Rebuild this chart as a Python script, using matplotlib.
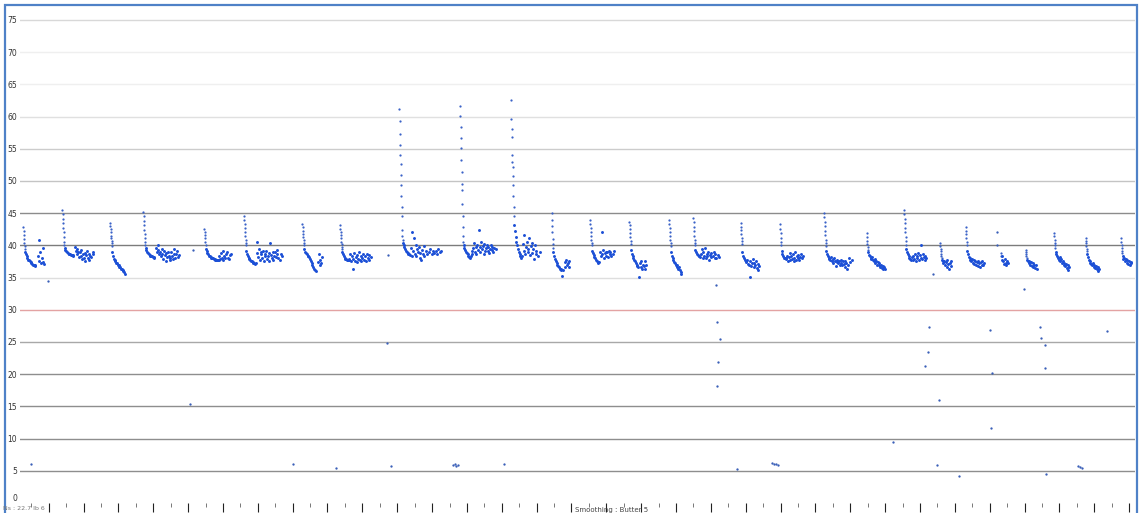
import numpy as np
import matplotlib.pyplot as plt
from matplotlib.patches import Rectangle

nan = np.nan

# start of each pull (x of the spike top), samples
cycle_start = [3.3, 42.3, 90.0, 123.3, 184.3, 224.0, 282.3, 320.0, 379.3, 440.0,
               491.0, 531.7, 570.0, 609.3, 649.0, 673.3, 720.7, 760.0, 804.0, 846.7,
               884.0, 920.0, 945.7, 981.0, 1005.7, 1034.0, 1065.7, 1101.0]

# fast drop right after the spike (fine sampling)
cycle_drop = [
    [42.8, 42.2, 41.6, 41.0, 40.4, 39.9, 39.5],
    [45.5, 44.8, 44.1, 43.4, 42.7, 42.0, 41.3, 40.6, 40.1],
    [43.5, 43.0, 42.5, 42.0, 41.5, 41.1, 40.7, 40.3, 39.9],
    [45.2, 44.5, 43.8, 43.1, 42.4, 41.7, 41.1, 40.5, 40.0],
    [42.6, 42.1, 41.6, 41.1, 40.6, 40.1],
    [44.5, 43.9, 43.3, 42.7, 42.1, 41.5, 40.9, 40.4, 40.0],
    [43.3, 42.8, 42.3, 41.8, 41.3, 40.8, 40.4, 40.0],
    [43.1, 42.6, 42.1, 41.6, 41.1, 40.6, 40.2, 39.8, 39.5],
    [61.2, 59.3, 57.3, 55.6, 54.0, 52.7, 50.9, 49.4, 47.6, 46.0, 44.5, 42.4, 41.5, 40.8],
    [61.7, 60.1, 58.4, 56.6, 55.1, 53.3, 51.4, 49.6, 48.6, 46.5, 44.5, 42.9, 41.4, 40.6],
    [62.5, 59.7, 58.0, 56.8, 54.0, 53.0, 52.2, 50.7, 49.4, 47.6, 46.0, 44.5],
    [45.0, 44.0, 43.0, 42.0, 41.0, 40.2, 39.6],
    [43.9, 43.3, 42.7, 42.1, 41.5, 40.9, 40.4, 40.0],
    [43.7, 43.1, 42.5, 41.9, 41.3, 40.7, 40.2],
    [43.9, 43.3, 42.7, 42.1, 41.5, 40.9, 40.4, 39.9],
    [44.3, 43.6, 42.9, 42.2, 41.5, 40.9, 40.4, 40.0],
    [43.4, 42.9, 42.4, 41.8, 41.2, 40.7, 40.2],
    [43.3, 42.6, 41.9, 41.2, 40.6, 40.1],
    [45.1, 44.4, 43.7, 43.0, 42.3, 41.6, 40.9, 40.3, 39.9],
    [41.9, 41.3, 40.7, 40.2, 39.7, 39.3],
    [45.5, 44.8, 44.1, 43.4, 42.7, 42.0, 41.3, 40.7, 40.1],
    [40.3, 39.9, 39.5, 39.1, 38.7, 38.4, 38.1],
    [42.9, 42.3, 41.7, 41.1, 40.5, 40.0],
    [38.8, 38.3],
    [39.3, 39.0, 38.7, 38.4, 38.1],
    [41.9, 41.4, 40.9, 40.4, 40.0, 39.6],
    [41.1, 40.7, 40.3, 39.9, 39.5, 39.2],
    [41.1, 40.6, 40.1, 39.6, 39.2, 38.8],
]

# slow recovery + scatter afterwards (coarser sampling), nan = no reading
cycle_tail = [
    [39.0, 38.6, 38.3, 38.0, 37.8, 37.7, 37.5, 37.4, 37.2, 37.1, 37.0, 36.9, 36.8, 36.9,
     nan, nan, 38.4, 40.8, 37.6, 38.9, 37.2, 38.0, 37.4, 39.6, 37.1],
    [39.6, 39.3, 39.1, 38.9, 38.8, 38.7, 38.6, 38.6, 38.5, 38.5, 38.4, 38.5, nan, 39.8,
     39.2, 38.6, 39.5, 38.9, 38.2, 39.0, 38.4, 39.3, 37.9, 38.7, 38.1, 38.8, 37.6, 38.5,
     39.1, 38.0, 38.6, 37.8, 38.3, 38.2, nan, 39.0, 38.7],
    [39.0, 38.3, 37.9, 37.7, 37.5, 37.3, 37.2, 37.0, 36.9, 36.7, 36.6, 36.4, 36.3, 36.1,
     36.0, 35.8, 35.6],
    [39.6, 39.3, 39.0, 38.8, 38.7, 38.5, 38.4, 38.3, 38.3, 38.2, 38.2, 38.1, nan, 39.6,
     38.9, 39.3, 40.1, 38.7, 39.0, 38.4, 39.5, 38.6, 37.9, 39.2, 38.5, 38.8, 37.6, 38.2,
     39.0, 38.4, 38.0, 37.7, 38.9, 38.3, 37.9, 38.6, 39.4, 38.1, 38.7, 39.1, 38.2, nan,
     38.5],
    [39.5, 39.1, 38.8, 38.6, 38.4, 38.3, 38.2, 38.1, 38.0, 38.0, 37.9, 37.9, 37.8, 37.8,
     37.8, 37.7, 37.8, 38.4, 37.9, 38.8, 38.1, 37.7, 39.2, 38.3, 38.0, 38.6, nan, 38.9,
     38.1, 37.9, 38.5, nan, 38.7],
    [39.2, 38.6, 38.3, 38.1, 37.9, 37.7, 37.6, 37.5, 37.4, 37.3, 37.2, 37.1, 37.3, 38.8,
     40.6, 38.2, 39.4, 37.7, 38.6, 38.9, 38.0, 39.2, 37.5, 38.4, 38.7, 39.1, 37.9, 38.3,
     38.8, 37.6, 40.3, 38.5, 38.1, 38.9, 37.8, 38.4, 39.0, 38.2, 38.6, 39.3, 38.0, nan,
     37.8, 38.7, nan, 38.3],
    [39.4, 39.0, 38.8, 38.6, 38.4, 38.3, 38.2, 37.9, 37.6, 37.3, 37.0, 36.7, 36.4, 36.2,
     36.0, nan, nan, 37.4, 38.6, 36.9, 37.8, 37.2, 38.2],
    [39.0, 38.6, 38.3, 38.1, 37.9, 37.9, 37.8, 37.8, 37.8, 37.9, 38.6, 37.5, 38.3, 36.3,
     37.9, 38.8, 37.6, 38.2, 37.4, 38.5, 37.9, 38.9, 37.7, 38.3, 37.5, 38.1, 38.6, 37.8,
     nan, 38.4, 37.6, 38.7, 38.0, 38.5, 37.7, nan, 38.2],
    [40.3, 40.0, 39.7, 39.5, 39.2, 39.0, 38.8, 38.7, 38.6, 38.5, 39.6, 42.1, 38.4, 39.1,
     41.1, 38.7, 40.0, 38.3, 39.4, 38.9, 39.8, 38.1, 38.8, 37.8, 39.3, 38.6, 39.9, 38.4,
     nan, 39.2, 38.7, nan, nan, 38.9, 39.4, nan, 38.6, nan, 39.2, 38.8, nan, 39.1, nan,
     38.7, 39.5, nan, nan, 38.9, 39.2],
    [40.0, 39.6, 39.3, 39.0, 38.8, 38.6, 38.4, 38.2, 38.0, 38.3, 39.2, 38.6, 39.6, 40.4,
     39.0, 39.8, 38.7, 40.1, 39.3, 42.4, 39.7, 38.9, 40.6, 39.4, 39.9, 38.6, 40.2, 39.1,
     39.6, 40.0, 39.2, 39.7, 38.8, 39.5, 40.1, 39.3, 39.8, 39.0, 39.6, nan, 39.4],
    [43.2, 42.2, 41.3, 40.6, 40.0, 39.4, 39.0, 38.6, 38.3, 38.0, 38.4, 40.2, 39.1, 41.6,
     38.7, 39.8, 40.5, 38.9, 39.5, 41.2, 38.5, 39.9, 40.3, 38.8, 39.4, 37.9, 40.0, 38.6,
     39.2, nan, 38.4, nan, 38.9],
    [38.9, 38.3, 37.9, 37.6, 37.3, 37.0, 36.8, 36.6, 36.4, 36.3, 36.2, 35.2, 36.1, nan,
     37.4, 36.7, 37.8, 36.9, 37.2, 36.6, 37.5],
    [39.2, 38.8, 38.5, 38.2, 38.0, 37.8, 37.6, 37.4, 37.3, 37.4, 38.9, 38.3, 42.1, 38.7,
     39.3, 38.1, 38.8, 39.0, 38.4, 38.9, 38.2, 39.2, 38.6, 38.9, 38.3, nan, 38.7, 39.1],
    [39.3, 38.7, 38.3, 38.0, 37.8, 37.5, 37.2, 37.0, 36.8, 36.7, 35.1, 37.3, 36.6, 37.5,
     36.4, 37.0, 36.8, 37.6, 36.3, 36.9],
    [39.0, 38.4, 38.0, 37.7, 37.4, 37.2, 37.0, 36.7, 36.9, 36.4, 36.6, 36.1, 35.8, 35.5],
    [39.3, 38.9, 38.7, 38.5, 38.4, 38.3, 38.2, 38.6, 39.4, 38.1, 38.9, 38.4, 39.6, 38.0,
     38.7, 38.3, 38.9, 37.8, 38.5, 38.2, 38.8, nan, 38.4, 38.9, 38.1, 38.6, 38.0, nan,
     38.5, 38.2],
    [38.9, 38.4, 38.0, 37.8, 37.6, 37.4, 37.8, 37.1, 36.9, 35.1, 37.5, 36.8, 37.2, 37.9,
     36.6, 37.3, 36.9, 37.6, 36.5, 37.1, 36.2, 36.8],
    [39.2, 38.6, 38.3, 38.1, 38.0, 38.1, 37.9, 38.4, 37.6, 38.2, 38.8, 37.7, 38.3, 37.9,
     38.6, 37.5, 38.1, 38.9, 37.8, 38.4, 38.0, 38.5, 37.7, 38.2, 38.6, 38.0, nan, 38.3],
    [39.1, 38.7, 38.4, 38.1, 37.9, 37.7, 38.2, 37.5, 37.9, 37.3, 38.0, 37.6, 36.8, 37.4,
     37.8, 37.2, 37.6, 37.0, 37.7, 37.3, 36.9, 37.5, 37.1, 37.6, 36.7, 37.3, 36.4, 37.0,
     nan, 38.1, 37.4, nan, 37.8],
    [38.9, 38.5, 38.3, 38.1, 37.9, 38.2, 37.7, 37.5, 37.9, 37.3, 37.6, 37.0, 37.4, 36.9,
     37.2, 36.7, 37.0, 36.5, 36.8, 36.4, 36.6, 36.3],
    [39.4, 38.9, 38.6, 38.3, 38.1, 37.9, 37.8, 38.2, 37.7, 38.4, 37.9, 38.6, 37.6, 38.3,
     38.0, 38.8, 37.8, 38.5, 38.1, 40.1, 37.9, 38.7, 38.2, 37.8, 38.4, 38.0],
    [37.8, 37.5, 37.3, 37.6, 36.9, 37.4, 36.6, 37.7, 37.1, 36.4, 37.3, 36.8, 37.5],
    [39.1, 38.6, 38.2, 38.0, 37.8, 37.5, 37.9, 37.3, 37.7, 37.1, 37.6, 37.0, 37.4, 36.8,
     37.5, 37.2, 36.6, 37.4, 37.0, 37.6, 36.9, 37.3],
    [37.8, 38.4, 37.5, 37.1, 37.9, 37.3, 37.0, 37.6, 37.2],
    [37.8, 37.5, 37.3, 37.6, 37.0, 37.4, 36.8, 37.2, 36.6, 37.0, 36.5, 36.9, 36.3],
    [38.9, 38.6, 38.3, 38.0, 37.7, 38.2, 37.5, 37.9, 37.2, 37.6, 37.0, 37.3, 36.8, 37.1,
     36.5, 36.9, 36.2, 36.7],
    [38.7, 38.2, 37.8, 37.5, 37.3, 37.1, 36.9, 37.2, 36.7, 37.0, 36.5, 36.8, 36.3, 36.6,
     36.0, 36.4],
    [38.3, 37.9, 38.1, 37.6, 37.9, 37.3, 37.7, 37.1, 37.5, 37.0, 37.4, 37.2],
]

# stray readings
outlier_x = [28, 11, 170, 173, 273, 316, 367, 368, 371, 433, 434.5, 436, 437.5, 484,
             696, 697, 700, 698, 697, 717, 752, 754, 756, 758, 873, 909, 908, 905, 919,
             917, 913, 970, 972, 971, 939, 977, 977, 1004, 1020, 1021, 1025, 1025, 1026,
             1058, 1060, 1062, 1087]
outlier_y = [34.5, 6.1, 15.4, 39.3, 6.1, 5.4, 24.8, 38.5, 5.7, 5.9, 6.0, 5.8, 5.9, 6.1,
             33.9, 28.1, 25.5, 21.9, 18.2, 5.3, 6.2, 6.1, 6.0, 5.9, 9.5, 27.3, 23.4, 21.3,
             16.0, 5.9, 35.6, 26.9, 20.2, 11.6, 4.2, 42.1, 40.1, 33.2, 27.3, 25.6, 24.5,
             21.0, 4.5, 5.7, 5.6, 5.5, 26.7]

levels = list(range(0, 80, 5))
grid_colors = {5: '#8e8e8e', 10: '#8e8e8e', 15: '#8e8e8e', 20: '#8e8e8e', 25: '#a8a8a8',
               30: '#e3a3a3', 35: '#dedede', 40: '#7c7c7c', 45: '#8c8c8c', 50: '#c4c4c4',
               55: '#cccccc', 60: '#e0e0e0', 65: '#efefef', 70: '#efefef', 75: '#d8d8d8'}

fig = plt.figure(figsize=(11.39, 5.13), dpi=100)
ax = fig.add_axes([20 / 1139, 10 / 513, 1115 / 1139, 492.7 / 513])

for lv, c in grid_colors.items():
    ax.axhline(lv, color=c, lw=1, zorder=0)

dot = '#1b4fd6'
for x0, drop, tail in zip(cycle_start, cycle_drop, cycle_tail):
    xd = x0 + 0.25 * np.arange(len(drop))
    xt = xd[-1] + 0.25 + 0.8 * np.arange(len(tail))
    ax.scatter(xd, drop, s=2.6, color='#3a62c8', linewidths=0, zorder=3)
    ax.scatter(xt, tail, s=4.5, color=dot, linewidths=0, zorder=3)

ax.scatter(outlier_x, outlier_y, s=2.8, color='#3a5fb8', linewidths=0, zorder=3)

ax.set_xlim(0, 1115)
ax.set_ylim(0, 76.5)
ax.set_yticks(levels)
ax.tick_params(axis='y', length=0, pad=2, labelsize=5.5, labelcolor='#333333')
ax.get_yticklabels()[0].set_va('bottom')

ax.set_xticks(np.arange(28.7, 1115, 34.85))
ax.set_xticks(np.arange(11.3, 1115, 34.85), minor=True)
ax.tick_params(axis='x', which='major', length=6.5, width=0.8, color='#222222',
               labelbottom=False)
ax.tick_params(axis='x', which='minor', length=3, width=0.7, color='#777777')
for s in ax.spines.values():
    s.set_visible(False)

fig.text(3 / 1139, 4 / 513, 'Ns : 22.7 lb 6', fontsize=4.5, color='#777777', va='center')
fig.text(612 / 1139, 3 / 513, 'Smoothing : Butter 5', fontsize=5, color='#444444',
         ha='center', va='center')

fig.patches.append(Rectangle((5 / 1139, -0.05), 1132 / 1139, 1 - 5 / 513 + 0.05,
                             fill=False, edgecolor='#4f81c7', lw=1.6,
                             transform=fig.transFigure, figure=fig))

fig.savefig('out.png', dpi=100, facecolor='white')
